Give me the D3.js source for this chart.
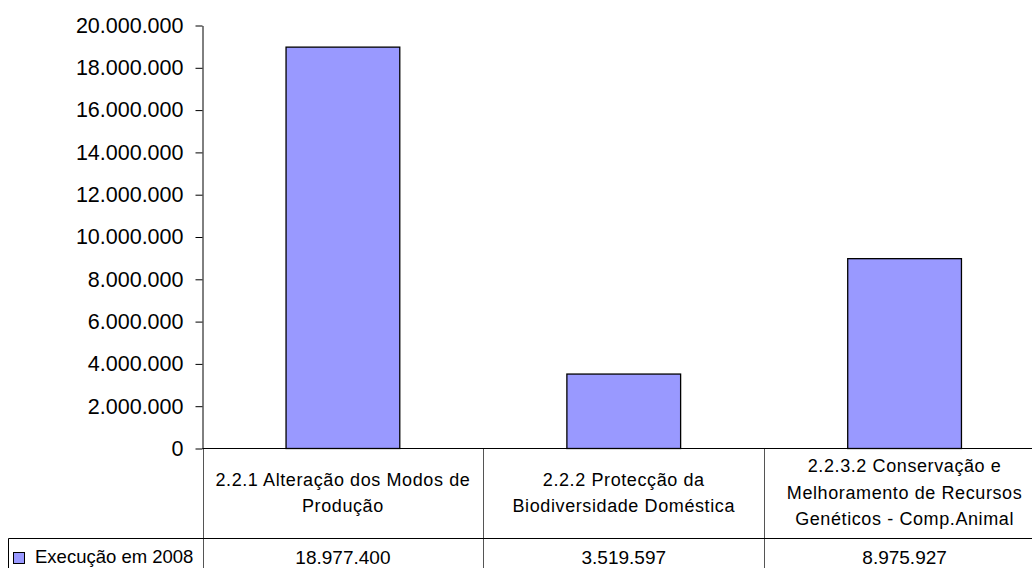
<!DOCTYPE html>
<html>
<head>
<meta charset="utf-8">
<script src="https://cdn.jsdelivr.net/npm/d3@7"></script>
<style>
  body { margin: 0; background: #fff; }
  text { font-family: "Liberation Sans", Arial, sans-serif; fill: #000; }
</style>
</head>
<body>
<div id="chart"></div>
<script>
// chart data
const categories = [
  "2.2.1 Alteração dos Modos de Produção",
  "2.2.2 Protecção da Biodiversidade Doméstica",
  "2.2.3.2 Conservação e Melhoramento de Recursos Genéticos - Comp.Animal"
];
const values = [18977400, 3519597, 8975927];
const seriesName = "Execução em 2008";
const yTicks = [0, 2000000, 4000000, 6000000, 8000000, 10000000, 12000000, 14000000, 16000000, 18000000, 20000000];

const width = 1032;
const height = 568;
const plot = {left: 202.5, right: 1045, top: 25.5, bottom: 448.5};
const rowBottom = 538.5;   // bottom of the category row of the data table
const barColor = "#9999ff";

// portuguese style numbers: 18.977.400
const pt = d3.formatLocale({decimal: ",", thousands: ".", grouping: [3], currency: ["", ""]});
const fmt = pt.format(",");

const svg = d3.select("#chart")
  .append("svg")
  .attr("width", width)
  .attr("height", height);

const y = d3.scaleLinear()
  .domain([0, 20000000])
  .range([plot.bottom, plot.top]);

const x = d3.scaleBand()
  .domain(categories)
  .range([plot.left, plot.right])
  .padding(0);

const barW = x.bandwidth() * 0.405;

// y axis
svg.append("g")
  .attr("transform", `translate(${plot.left},0)`)
  .call(d3.axisLeft(y).tickValues(yTicks).tickFormat(fmt).tickSize(7).tickSizeOuter(0).tickPadding(12))
  .call(g => g.selectAll("text").attr("font-size", "21.5px").attr("font-family", "Liberation Sans, Arial, sans-serif"))
  .call(g => g.selectAll("line, path").attr("stroke", "#000"));

// bars
svg.selectAll(".bar")
  .data(values)
  .enter()
  .append("rect")
    .attr("class", "bar")
    .attr("x", (d, i) => x(categories[i]) + (x.bandwidth() - barW) / 2)
    .attr("y", d => y(d))
    .attr("width", barW)
    .attr("height", d => y(0) - y(d))
    .attr("fill", barColor)
    .attr("stroke", "#000")
    .attr("stroke-width", 1.3);

// data table lines
const edges = categories.map(c => x(c)).concat([plot.right]);
svg.append("g")
  .selectAll("line")
  .data(edges)
  .enter()
  .append("line")
    .attr("x1", d => Math.round(d) + 0.5)
    .attr("x2", d => Math.round(d) + 0.5)
    .attr("y1", plot.bottom)
    .attr("y2", height + 5)
    .attr("stroke", "#555")
    .attr("stroke-width", 1);

// baseline and row separator
svg.append("line")
  .attr("x1", plot.left).attr("x2", plot.right)
  .attr("y1", y(0)).attr("y2", y(0))
  .attr("stroke", "#000");
svg.append("line")
  .attr("x1", 8.5).attr("x2", plot.right)
  .attr("y1", rowBottom).attr("y2", rowBottom)
  .attr("stroke", "#000");
svg.append("line")
  .attr("x1", 8.5).attr("x2", 8.5)
  .attr("y1", rowBottom).attr("y2", height + 5)
  .attr("stroke", "#000");

// category labels, wrapped to the cell
const maxW = x.bandwidth() - 12;
const lineH = 26.5;
const catG = svg.append("g");
categories.forEach(c => {
  const cx = x(c) + x.bandwidth() / 2;
  const probe = catG.append("text").attr("font-size", "18px").attr("letter-spacing", "0.6px");
  const words = c.split(" ");
  const lines = [];
  let cur = [];
  words.forEach(w => {
    const test = cur.concat([w]).join(" ");
    probe.text(test);
    if (probe.node().getComputedTextLength() > maxW && cur.length) {
      lines.push(cur.join(" "));
      cur = [w];
    } else {
      cur.push(w);
    }
  });
  lines.push(cur.join(" "));
  probe.remove();
  const cy = (plot.bottom + rowBottom) / 2 - 1;
  lines.forEach((l, k) => {
    catG.append("text")
      .attr("x", cx)
      .attr("y", cy + (k - (lines.length - 1) / 2) * lineH)
      .attr("dy", "0.35em")
      .attr("text-anchor", "middle")
      .attr("font-size", "18px")
      .attr("letter-spacing", "0.6px")
      .text(l);
  });
});

// values row
svg.selectAll(".val")
  .data(values)
  .enter()
  .append("text")
    .attr("class", "val")
    .attr("x", (d, i) => x(categories[i]) + x.bandwidth() / 2)
    .attr("y", 557)
    .attr("dy", "0.35em")
    .attr("text-anchor", "middle")
    .attr("font-size", "19px")
    .text(d => fmt(d));

// legend key in the table
svg.append("rect")
  .attr("x", 13.5).attr("y", 552.5)
  .attr("width", 11).attr("height", 11)
  .attr("fill", barColor)
  .attr("stroke", "#000");
svg.append("text")
  .attr("x", 35)
  .attr("y", 557)
  .attr("dy", "0.35em")
  .attr("font-size", "18.5px")
  .text(seriesName);
</script>
</body>
</html>
